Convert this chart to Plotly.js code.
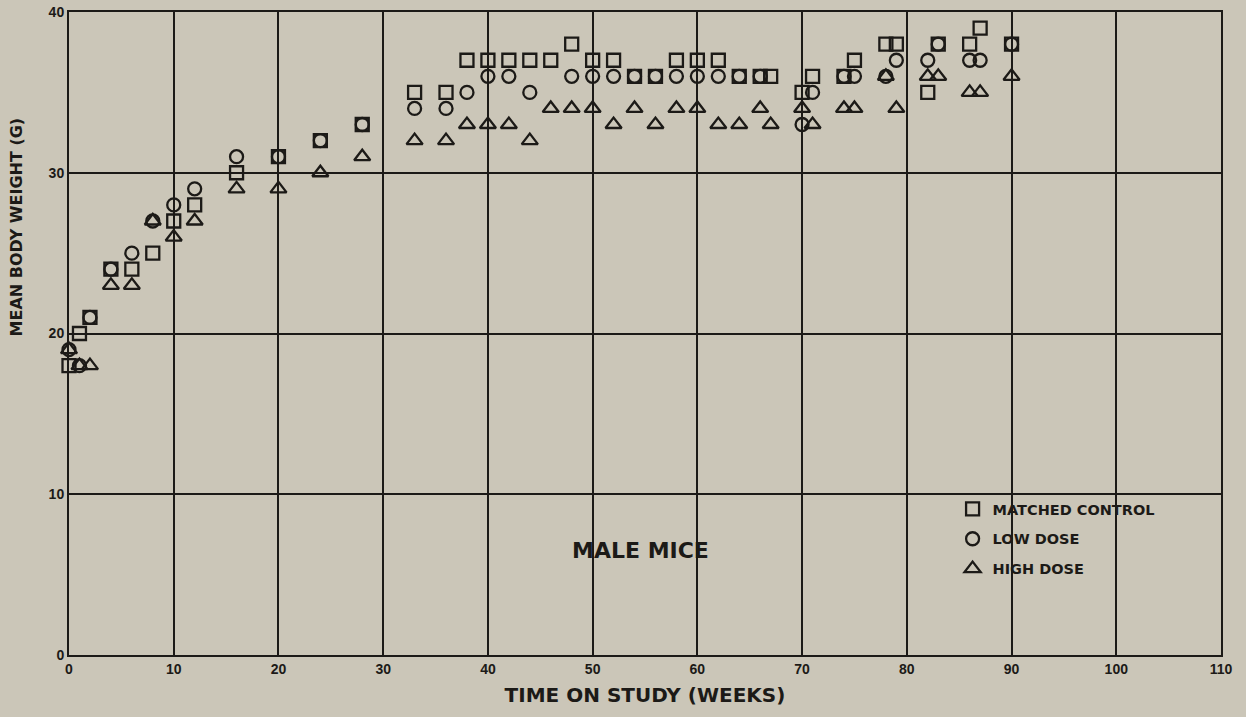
<!DOCTYPE html>
<html>
<head>
<meta charset="utf-8">
<script src="https://cdn.plot.ly/plotly-3.0.1.min.js"></script>
<style>
  html, body { margin: 0; padding: 0; background: #cbc6b8; }
  #chart { width: 1246px; height: 717px; }
</style>
</head>
<body>
<div id="chart"></div>
<script>
// Time on study (weeks)
const weeks = [0, 1, 2, 4, 6, 8, 10, 12, 16, 20, 24, 28, 33, 36, 38, 40, 42, 44, 46, 48, 50,
               52, 54, 56, 58, 60, 62, 64, 66, 67, 70, 71, 74, 75, 78, 79, 82, 83, 86, 87, 90];
// Mean body weight (g)
const matchedControl = [18, 20, 21, 24, 24, 25, 27, 28, 30, 31, 32, 33, 35, 35, 37, 37, 37, 37, 37, 38, 37,
                        37, 36, 36, 37, 37, 37, 36, 36, 36, 35, 36, 36, 37, 38, 38, 35, 38, 38, 39, 38];
const lowDose        = [19, 18, 21, 24, 25, 27, 28, 29, 31, 31, 32, 33, 34, 34, 35, 36, 36, 35, null, 36, 36,
                        36, 36, 36, 36, 36, 36, 36, 36, null, 33, 35, 36, 36, 36, 37, 37, 38, 37, 37, 38];
const highDose       = [19, 18, 18, 23, 23, 27, 26, 27, 29, 29, 30, 31, 32, 32, 33, 33, 33, 32, 34, 34, 34,
                        33, 34, 33, 34, 34, 33, 33, 34, 33, 34, 33, 34, 34, 36, 34, 36, 36, 35, 35, 36];

const seriesNames = ['MATCHED CONTROL', 'LOW DOSE', 'HIGH DOSE'];
const xTicks = [0, 10, 20, 30, 40, 50, 60, 70, 80, 90, 100, 110];
const yTicks = [0, 10, 20, 30, 40];

const ink = '#1c1a17';
const bg = '#cbc6b8';
const wideFont = 'DejaVu Sans, Liberation Sans, Arial, sans-serif';

function mk(y, name, symbol, size, group) {
  return {
    x: weeks, y: y, name: name, type: 'scatter', mode: 'markers',
    legendgroup: group,
    marker: { symbol: symbol, size: size, color: ink,
              line: { color: ink, width: 2.3 } },
    cliponaxis: false
  };
}

const traces = [
  mk(matchedControl, seriesNames[0], 'square-open', 13, 'a'),
  mk(lowDose, seriesNames[1], 'circle-open', 13, 'b'),
  mk(highDose, seriesNames[2], 'triangle-up-open', 14, 'c')
];

const layout = {
  width: 1246, height: 717,
  paper_bgcolor: bg, plot_bgcolor: bg,
  margin: { l: 69, r: 25, t: 12, b: 62 },
  showlegend: true,
  legend: {
    x: 0.767, y: 0.252, xanchor: 'left', yanchor: 'top',
    bgcolor: 'rgba(0,0,0,0)',
    traceorder: 'grouped', tracegroupgap: 8,
    itemwidth: 30,
    font: { family: wideFont, size: 14.5, color: ink, weight: 'bold' }
  },
  xaxis: {
    range: [0, 110], tickvals: xTicks, ticktext: xTicks.map(String),
    showgrid: true, gridcolor: ink, gridwidth: 2,
    showline: true, linecolor: ink, linewidth: 2, mirror: true,
    zeroline: false, ticks: '', fixedrange: true,
    tickfont: { family: 'Liberation Sans, Arial, sans-serif', size: 14, color: ink, weight: 'bold' },
    title: { text: 'TIME ON STUDY (WEEKS)', standoff: 12,
             font: { family: wideFont, size: 20, color: ink, weight: 'bold' } }
  },
  yaxis: {
    range: [0, 40], tickvals: yTicks, ticktext: yTicks.map(String),
    showgrid: true, gridcolor: ink, gridwidth: 2,
    showline: true, linecolor: ink, linewidth: 2, mirror: true,
    zeroline: false, ticks: '', fixedrange: true,
    tickfont: { family: 'Liberation Sans, Arial, sans-serif', size: 14, color: ink, weight: 'bold' }
  },
  annotations: [
    {
      text: 'MALE MICE', xref: 'x', yref: 'y', x: 54.6, y: 6.5,
      showarrow: false, xanchor: 'center', yanchor: 'middle',
      font: { family: wideFont, size: 22, color: ink, weight: 'bold' }
    },
    {
      text: 'MEAN BODY WEIGHT (G)', xref: 'paper', yref: 'paper', x: -0.046, y: 0.665,
      showarrow: false, xanchor: 'center', yanchor: 'middle', textangle: -90,
      font: { family: wideFont, size: 16, color: ink, weight: 'bold' }
    }
  ]
};

Plotly.newPlot('chart', traces, layout, { displayModeBar: false, staticPlot: true });
</script>
</body>
</html>
